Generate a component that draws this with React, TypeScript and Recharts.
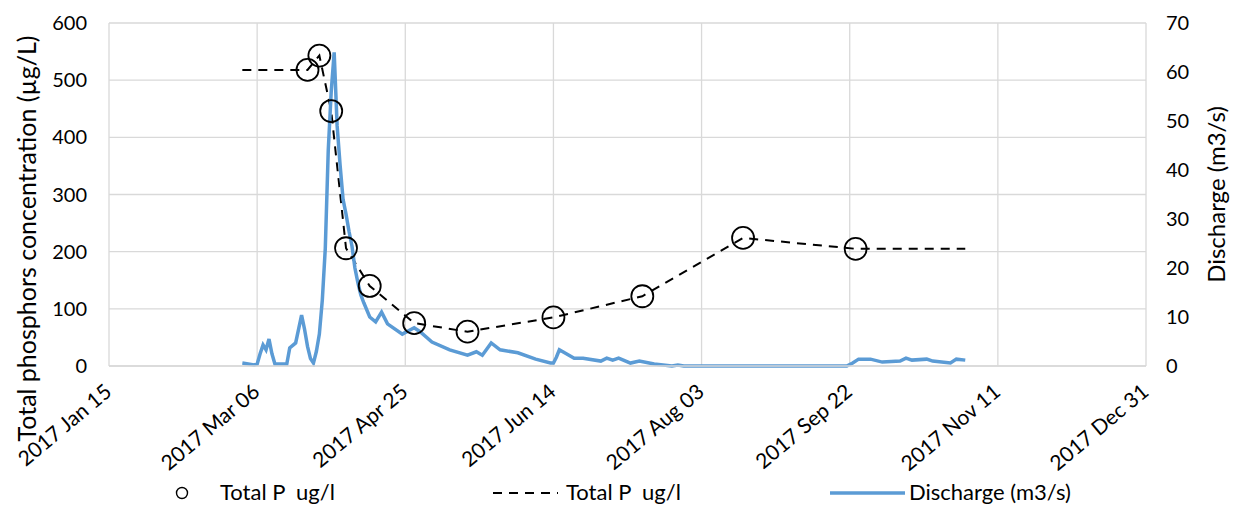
import React from 'react';
import { ComposedChart, Line, Scatter, XAxis, YAxis, CartesianGrid, Legend } from 'recharts';

// daily discharge (m3/s)
const dischargeDates = [
  '2017-03-01', '2017-03-05', '2017-03-06', '2017-03-07', '2017-03-08', '2017-03-09', '2017-03-10',
  '2017-03-11', '2017-03-12', '2017-03-16', '2017-03-17', '2017-03-19', '2017-03-21', '2017-03-22',
  '2017-03-23', '2017-03-24', '2017-03-25', '2017-03-26', '2017-03-27', '2017-03-28', '2017-03-29',
  '2017-03-30', '2017-03-31', '2017-04-01', '2017-04-02', '2017-04-03', '2017-04-04', '2017-04-05',
  '2017-04-06', '2017-04-07', '2017-04-08', '2017-04-09', '2017-04-10', '2017-04-11', '2017-04-13',
  '2017-04-15', '2017-04-17', '2017-04-19', '2017-04-24', '2017-04-28', '2017-04-30', '2017-05-04',
  '2017-05-10', '2017-05-16', '2017-05-19', '2017-05-21', '2017-05-24', '2017-05-27', '2017-06-02',
  '2017-06-08', '2017-06-13', '2017-06-14', '2017-06-15', '2017-06-16', '2017-06-21', '2017-06-24',
  '2017-06-30', '2017-07-02', '2017-07-04', '2017-07-06', '2017-07-10', '2017-07-13', '2017-07-18',
  '2017-07-24', '2017-07-26', '2017-07-28', '2017-09-21', '2017-09-23', '2017-09-25', '2017-09-29',
  '2017-10-03', '2017-10-09', '2017-10-11', '2017-10-13', '2017-10-18', '2017-10-20', '2017-10-26',
  '2017-10-28', '2017-10-31',
];
const dischargeValues = [
  0.6, 0.2, 0.4, 2.5, 4.3, 3.3, 5.5,
  2.5, 0.4, 0.4, 3.7, 4.7, 10.4, 7.5,
  4.0, 1.5, 0.6, 3.0, 6.5, 13.5, 24,
  44, 56, 64, 49, 41, 34, 31,
  27.5, 24.5, 20, 17, 14.5, 12.9, 10,
  9, 11, 8.6, 6.5, 7.8, 7, 4.9,
  3.3, 2.2, 2.9, 2.2, 4.7, 3.3, 2.7,
  1.4, 0.6, 0.6, 1.8, 3.3, 1.6, 1.6,
  1.0, 1.6, 1.2, 1.6, 0.6, 1.0, 0.4,
  0, 0.2, 0, 0, 0.6, 1.4, 1.4,
  0.8, 1.0, 1.6, 1.2, 1.4, 1.0, 0.6,
  1.4, 1.2,
];

// sampled total P (ug/l)
const sampleDates = [
  '2017-03-23', '2017-03-27', '2017-03-31', '2017-04-05', '2017-04-13', '2017-04-28',
  '2017-05-16', '2017-06-14', '2017-07-14', '2017-08-17', '2017-09-24',
];
const sampleValues = [518, 543, 446, 206, 140, 75, 60, 85, 122, 224, 205];

// dashed total P line, extended to the ends of the season
const trendDates = ['2017-03-01', ...sampleDates, '2017-10-31'];
const trendValues = [518, ...sampleValues, 205];

const xTickDates = [
  '2017-01-15', '2017-03-06', '2017-04-25', '2017-06-14',
  '2017-08-03', '2017-09-22', '2017-11-11', '2017-12-31',
];
const leftTicks = [0, 100, 200, 300, 400, 500, 600];
const rightTicks = [0, 10, 20, 30, 40, 50, 60, 70];

const FONT = 'Lato, "Open Sans", sans-serif';
const MONTHS = ['Jan', 'Feb', 'Mar', 'Apr', 'May', 'Jun', 'Jul', 'Aug', 'Sep', 'Oct', 'Nov', 'Dec'];
const DAY = 86400000;
const BASE = Date.UTC(2017, 0, 1);

const toDay = (s: string) => {
  const [y, m, d] = s.split('-').map(Number);
  return (Date.UTC(y, m - 1, d) - BASE) / DAY;
};
const fmtDay = (n: number) => {
  const dt = new Date(BASE + n * DAY);
  return `${dt.getUTCFullYear()} ${MONTHS[dt.getUTCMonth()]} ${String(dt.getUTCDate()).padStart(2, '0')}`;
};

const discharge = dischargeDates.map((d, i) => ({ t: toDay(d), q: dischargeValues[i] }));
const samples = sampleDates.map((d, i) => ({ t: toDay(d), p: sampleValues[i] }));
const trend = trendDates.map((d, i) => ({ t: toDay(d), p: trendValues[i] }));
const xTicks = xTickDates.map(toDay);

const DateTick = ({ x, y, payload }: any) => {
  const ax = x + 4;
  const ay = y + 28;
  return (
    <text x={ax} y={ay} transform={`rotate(-40 ${ax} ${ay})`} textAnchor="end"
      fontFamily={FONT} fontSize={21} fill="#000">
      {fmtDay(payload.value)}
    </text>
  );
};

const Ring = ({ cx, cy }: any) => (
  <circle cx={cx} cy={cy} r={11} fill="none" stroke="#000" strokeWidth={1.8} />
);

const LegendBox = () => (
  <svg width={1234} height={30} style={{ display: 'block' }}>
    <g fontFamily={FONT} fontSize={22} fill="#000">
      <circle cx={182} cy={15} r={5.5} fill="none" stroke="#000" strokeWidth={1.4} />
      <text x={220} y={22}>{'Total P\u00a0 ug/l'}</text>
      <line x1={493} x2={558} y1={15} y2={15} stroke="#000" strokeWidth={2} strokeDasharray="9 7" />
      <text x={566} y={22}>{'Total P\u00a0 ug/l'}</text>
      <line x1={830} x2={905} y1={15} y2={15} stroke="#5b9bd5" strokeWidth={3.5} />
      <text x={909} y={22}>Discharge (m3/s)</text>
    </g>
  </svg>
);

export default function App() {
  return (
    <div style={{ position: 'absolute', left: 0, top: 0, width: 1234, height: 508, background: '#fff' }}>
      <ComposedChart width={1234} height={508} margin={{ top: 23, right: 0, bottom: 0, left: 0 }}>
        <CartesianGrid yAxisId="left" stroke="#d9d9d9" strokeWidth={1.3} />
        <XAxis
          dataKey="t"
          type="number"
          domain={[xTicks[0], xTicks[xTicks.length - 1]]}
          ticks={xTicks}
          interval={0}
          height={112}
          tickSize={0}
          tickMargin={0}
          tickLine={false}
          axisLine={{ stroke: '#d9d9d9', strokeWidth: 1.3 }}
          tick={<DateTick />}
        />
        <YAxis
          yAxisId="left"
          domain={[0, 600]}
          ticks={leftTicks}
          width={109}
          tickSize={0}
          tickMargin={22}
          tickLine={false}
          axisLine={false}
          tick={{ fill: '#000', fontSize: 20, fontFamily: FONT }}
          label={{
            content: ({ viewBox }: any) => {
              const cx = viewBox.x + 26;
              const cy = viewBox.y + viewBox.height / 2 + 44;
              return (
                <text x={cx} y={cy} transform={`rotate(-90 ${cx} ${cy})`} textAnchor="middle"
                  dominantBaseline="central" fontFamily={FONT} fontSize={25} fill="#000">
                  Total phosphors concentration (µg/L)
                </text>
              );
            },
          }}
        />
        <YAxis
          yAxisId="right"
          orientation="right"
          domain={[0, 70]}
          ticks={rightTicks}
          width={88}
          tickSize={0}
          tickMargin={20}
          tickLine={false}
          axisLine={false}
          tick={{ fill: '#000', fontSize: 20, fontFamily: FONT }}
          label={{
            content: ({ viewBox }: any) => {
              const cx = viewBox.x + 69;
              const cy = viewBox.y + viewBox.height / 2;
              return (
                <text x={cx} y={cy} transform={`rotate(-90 ${cx} ${cy})`} textAnchor="middle"
                  dominantBaseline="central" fontFamily={FONT} fontSize={24} fill="#000">
                  Discharge (m3/s)
                </text>
              );
            },
          }}
        />
        <Legend verticalAlign="bottom" content={() => <LegendBox />} wrapperStyle={{ left: 0, bottom: 0, width: 1234 }} />
        <Scatter
          name="Total P  ug/l"
          data={samples}
          dataKey="p"
          yAxisId="left"
          shape={<Ring />}
          isAnimationActive={false}
        />
        <Line
          name="Total P  ug/l"
          data={trend}
          dataKey="p"
          yAxisId="left"
          type="linear"
          stroke="#000"
          strokeWidth={2}
          strokeDasharray="9 7"
          dot={false}
          activeDot={false}
          isAnimationActive={false}
        />
        <Line
          name="Discharge (m3/s)"
          data={discharge}
          dataKey="q"
          yAxisId="right"
          type="linear"
          stroke="#5b9bd5"
          strokeWidth={3.5}
          dot={false}
          activeDot={false}
          isAnimationActive={false}
        />
      </ComposedChart>
    </div>
  );
}
